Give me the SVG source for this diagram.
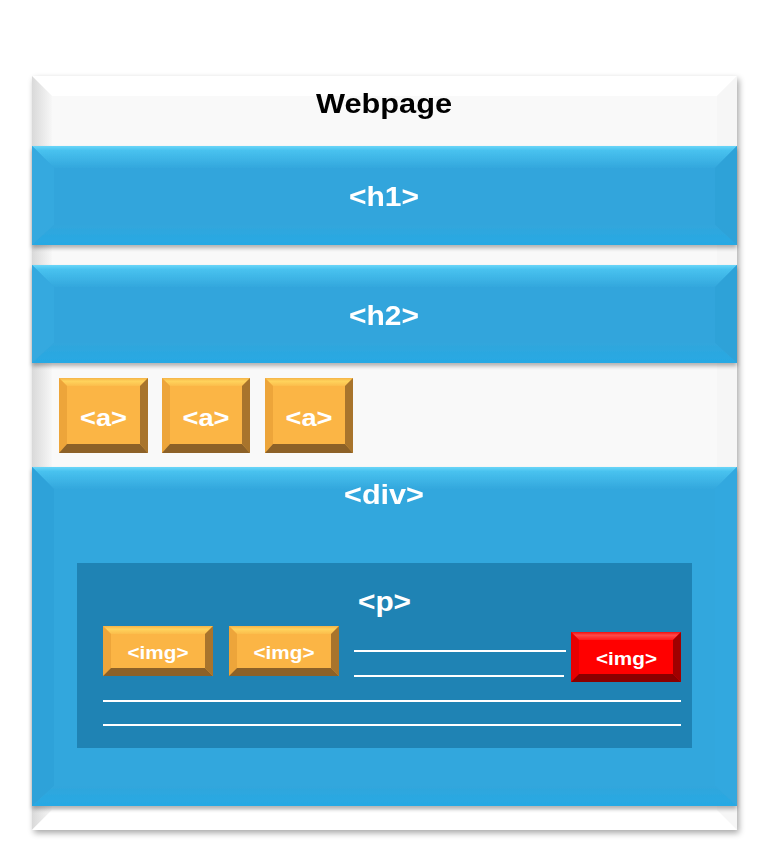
<svg xmlns="http://www.w3.org/2000/svg" width="768" height="865" viewBox="0 0 768 865">
  <defs>
    <style>
      .lbl { font-family: "Liberation Sans", Arial, sans-serif; font-weight: bold; text-anchor: middle; }
      .white { fill: #ffffff; }
      .rule { stroke: #ffffff; stroke-width: 2; }
    </style>
    <filter id="shadow" x="-5%" y="-5%" width="110%" height="110%">
      <feGaussianBlur in="SourceAlpha" stdDeviation="3"/>
      <feOffset dx="2" dy="3" result="b"/>
      <feComponentTransfer><feFuncA type="linear" slope="0.35"/></feComponentTransfer>
      <feMerge><feMergeNode/><feMergeNode in="SourceGraphic"/></feMerge>
    </filter>
    <filter id="softshadow" x="-5%" y="-10%" width="110%" height="130%">
      <feGaussianBlur in="SourceAlpha" stdDeviation="2"/>
      <feOffset dx="0" dy="3"/>
      <feComponentTransfer><feFuncA type="linear" slope="0.3"/></feComponentTransfer>
      <feMerge><feMergeNode/><feMergeNode in="SourceGraphic"/></feMerge>
    </filter>
    <linearGradient id="pageLeft" x1="0" y1="0" x2="1" y2="0">
      <stop offset="0" stop-color="#d9d9d9"/>
      <stop offset="1" stop-color="#f7f7f7"/>
    </linearGradient>
    <linearGradient id="blueTop" x1="0" y1="0" x2="0" y2="1">
      <stop offset="0" stop-color="#6ad6f8"/>
      <stop offset="0.2" stop-color="#48c2ef"/>
      <stop offset="1" stop-color="#33a7dd"/>
    </linearGradient>
    <linearGradient id="blueBottom" x1="0" y1="0" x2="0" y2="1">
      <stop offset="0" stop-color="#31a6dc"/>
      <stop offset="1" stop-color="#27a9e4"/>
    </linearGradient>
    <linearGradient id="orangeTop" x1="0" y1="0" x2="0" y2="1">
      <stop offset="0" stop-color="#f5b347"/>
      <stop offset="0.4" stop-color="#ffd35c"/>
      <stop offset="1" stop-color="#fbbd4b"/>
    </linearGradient>
    <linearGradient id="redTop" x1="0" y1="0" x2="0" y2="1">
      <stop offset="0" stop-color="#f01010"/>
      <stop offset="0.4" stop-color="#ff4a4a"/>
      <stop offset="1" stop-color="#ff1a1a"/>
    </linearGradient>
  </defs>

  <rect width="768" height="865" fill="#ffffff"/>

  <!-- outer page frame -->
  <g id="webpage" filter="url(#shadow)">
    <rect x="32" y="76" width="705" height="754" fill="#f9f9f9"/>
    <polygon points="32,76 737,76 717,96 52,96" fill="#ffffff"/>
    <polygon points="32,76 52,96 52,810 32,830" fill="url(#pageLeft)"/>
    <polygon points="737,76 737,830 717,810 717,96" fill="#f6f6f6"/>
    <polygon points="32,830 52,810 717,810 737,830" fill="#ffffff"/>
    <text class="lbl" x="384" y="113" font-size="28" fill="#000000" textLength="136" lengthAdjust="spacingAndGlyphs">Webpage</text>
  </g>

  <!-- h1 band -->
  <g id="h1" filter="url(#softshadow)">
    <rect x="32" y="146" width="705" height="99" fill="#31a5dc"/>
    <polygon points="32,146 737,146 715,168 54,168" fill="url(#blueTop)"/>
    <polygon points="32,146 54,168 54,225 32,245" fill="#36a9df"/>
    <polygon points="737,146 737,245 715,225 715,168" fill="#2fa2d8"/>
    <polygon points="32,245 54,225 715,225 737,245" fill="url(#blueBottom)"/>
    <rect x="54" y="168" width="661" height="57" fill="#31a5dc"/>
    <text class="lbl white" x="384" y="206" font-size="28" textLength="70" lengthAdjust="spacingAndGlyphs">&lt;h1&gt;</text>
  </g>

  <!-- h2 band -->
  <g id="h2" filter="url(#softshadow)">
    <rect x="32" y="265" width="705" height="98" fill="#31a5dc"/>
    <polygon points="32,265 737,265 715,287 54,287" fill="url(#blueTop)"/>
    <polygon points="32,265 54,287 54,343 32,363" fill="#36a9df"/>
    <polygon points="737,265 737,363 715,343 715,287" fill="#2fa2d8"/>
    <polygon points="32,363 54,343 715,343 737,363" fill="url(#blueBottom)"/>
    <rect x="54" y="287" width="661" height="56" fill="#31a5dc"/>
    <text class="lbl white" x="384" y="325" font-size="28" textLength="70" lengthAdjust="spacingAndGlyphs">&lt;h2&gt;</text>
  </g>

  <!-- link buttons -->
  <g id="a1">
    <rect x="59" y="378" width="89" height="75" fill="#fbb545"/>
    <polygon points="59,378 148,378 140,386 67,386" fill="url(#orangeTop)"/>
    <polygon points="59,378 67,386 67,444 59,453" fill="#eda53a"/>
    <polygon points="148,378 148,453 140,444 140,386" fill="#a8742c"/>
    <polygon points="59,453 67,444 140,444 148,453" fill="#8c6128"/>
    <text class="lbl white" x="103.5" y="426" font-size="23" textLength="47" lengthAdjust="spacingAndGlyphs">&lt;a&gt;</text>
  </g>
  <g id="a2">
    <rect x="162" y="378" width="88" height="75" fill="#fbb545"/>
    <polygon points="162,378 250,378 242,386 170,386" fill="url(#orangeTop)"/>
    <polygon points="162,378 170,386 170,444 162,453" fill="#eda53a"/>
    <polygon points="250,378 250,453 242,444 242,386" fill="#a8742c"/>
    <polygon points="162,453 170,444 242,444 250,453" fill="#8c6128"/>
    <text class="lbl white" x="206" y="426" font-size="23" textLength="47" lengthAdjust="spacingAndGlyphs">&lt;a&gt;</text>
  </g>
  <g id="a3">
    <rect x="265" y="378" width="88" height="75" fill="#fbb545"/>
    <polygon points="265,378 353,378 345,386 273,386" fill="url(#orangeTop)"/>
    <polygon points="265,378 273,386 273,444 265,453" fill="#eda53a"/>
    <polygon points="353,378 353,453 345,444 345,386" fill="#a8742c"/>
    <polygon points="265,453 273,444 345,444 353,453" fill="#8c6128"/>
    <text class="lbl white" x="309" y="426" font-size="23" textLength="47" lengthAdjust="spacingAndGlyphs">&lt;a&gt;</text>
  </g>

  <!-- div band -->
  <g id="div" filter="url(#softshadow)">
    <rect x="32" y="467" width="705" height="339" fill="#33a7dd"/>
    <polygon points="32,467 737,467 715,489 54,489" fill="url(#blueTop)"/>
    <polygon points="32,467 54,489 54,786 32,806" fill="#2ea2d9"/>
    <polygon points="737,467 737,806 715,786 715,489" fill="#32a8df"/>
    <polygon points="32,806 54,786 715,786 737,806" fill="url(#blueBottom)"/>
    <rect x="54" y="489" width="661" height="297" fill="#33a7dd"/>
    <text class="lbl white" x="384" y="504" font-size="28" textLength="80" lengthAdjust="spacingAndGlyphs">&lt;div&gt;</text>
  </g>

  <!-- paragraph block -->
  <g id="p">
    <rect x="77" y="563" width="615" height="185" fill="#1f83b4"/>
    <text class="lbl white" x="384.5" y="611" font-size="28" textLength="53" lengthAdjust="spacingAndGlyphs">&lt;p&gt;</text>
  </g>

  <!-- text lines inside the paragraph -->
  <g id="lines">
    <line class="rule" x1="354" y1="651" x2="566" y2="651"/>
    <line class="rule" x1="354" y1="676" x2="564" y2="676"/>
    <line class="rule" x1="103" y1="701" x2="681" y2="701"/>
    <line class="rule" x1="103" y1="725" x2="681" y2="725"/>
  </g>

  <!-- image buttons -->
  <g id="img1">
    <rect x="103" y="626" width="110" height="50" fill="#fbb545"/>
    <polygon points="103,626 213,626 205,634 111,634" fill="url(#orangeTop)"/>
    <polygon points="103,626 111,634 111,668 103,676" fill="#eda53a"/>
    <polygon points="213,626 213,676 205,668 205,634" fill="#a8742c"/>
    <polygon points="103,676 111,668 205,668 213,676" fill="#8c6128"/>
    <text class="lbl white" x="158" y="659" font-size="18" textLength="61" lengthAdjust="spacingAndGlyphs">&lt;img&gt;</text>
  </g>
  <g id="img2">
    <rect x="229" y="626" width="110" height="50" fill="#fbb545"/>
    <polygon points="229,626 339,626 331,634 237,634" fill="url(#orangeTop)"/>
    <polygon points="229,626 237,634 237,668 229,676" fill="#eda53a"/>
    <polygon points="339,626 339,676 331,668 331,634" fill="#a8742c"/>
    <polygon points="229,676 237,668 331,668 339,676" fill="#8c6128"/>
    <text class="lbl white" x="284" y="659" font-size="18" textLength="61" lengthAdjust="spacingAndGlyphs">&lt;img&gt;</text>
  </g>
  <g id="img3">
    <rect x="571" y="632" width="110" height="50" fill="#ff0000"/>
    <polygon points="571,632 681,632 673,640 579,640" fill="url(#redTop)"/>
    <polygon points="571,632 579,640 579,674 571,682" fill="#e80000"/>
    <polygon points="681,632 681,682 673,674 673,640" fill="#a00000"/>
    <polygon points="571,682 579,674 673,674 681,682" fill="#8a0000"/>
    <text class="lbl white" x="626.5" y="665" font-size="18" textLength="61" lengthAdjust="spacingAndGlyphs">&lt;img&gt;</text>
  </g>
</svg>
